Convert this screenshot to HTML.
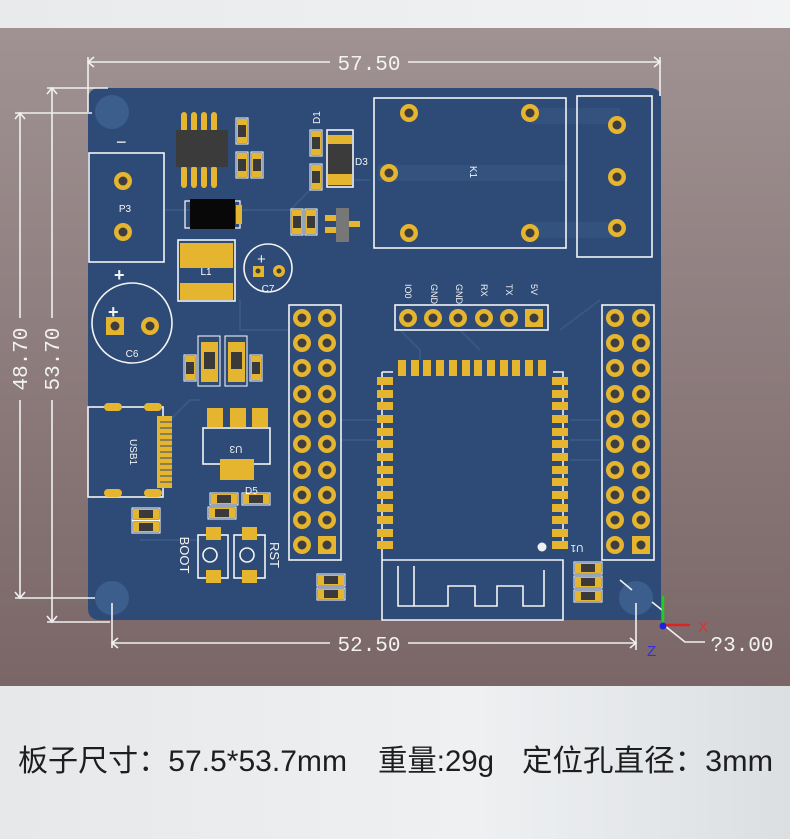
<!DOCTYPE html>
<html><head><meta charset="utf-8"><style>
html,body{margin:0;padding:0;width:790px;height:839px;overflow:hidden;background:#eceef0}
svg{display:block}
</style></head><body>
<svg width="790" height="839" viewBox="0 0 790 839" xmlns="http://www.w3.org/2000/svg">
<defs>
<linearGradient id="bg" x1="0" y1="0" x2="0" y2="1">
<stop offset="0" stop-color="#a09293"/><stop offset="1" stop-color="#7a6667"/></linearGradient>
<linearGradient id="top" x1="0" y1="0" x2="1" y2="0">
<stop offset="0" stop-color="#e8eaec"/><stop offset="1" stop-color="#f2f3f5"/></linearGradient>
<linearGradient id="bot" x1="0" y1="0" x2="1" y2="0">
<stop offset="0" stop-color="#e6e8ea"/><stop offset="0.6" stop-color="#eef0f2"/><stop offset="1" stop-color="#dcdfe2"/></linearGradient>
<g id="th"><circle r="9" fill="#e6b52f"/><circle r="4.5" fill="#3e3e40"/></g>
<g id="sq"><rect x="-9" y="-9" width="18" height="18" fill="#e6b52f"/><circle r="4.5" fill="#3e3e40"/></g>
<g id="rv"><rect x="-6" y="-13" width="12" height="26" fill="none" stroke="#fff" stroke-width="1"/><rect x="-5" y="-12" width="10" height="24" fill="#e6b52f"/><rect x="-4" y="-6" width="8" height="12" fill="#3a3a3a"/></g>
<g id="rh"><rect x="-14" y="-6" width="28" height="12" fill="none" stroke="#fff" stroke-width="1"/><rect x="-13" y="-5" width="26" height="10" fill="#e6b52f"/><rect x="-7" y="-4" width="14" height="8" fill="#3a3a3a"/></g>
<rect id="pv" x="-4" y="-8" width="8" height="16" fill="#e6b52f"/>
<rect id="ph" x="-8" y="-4" width="16" height="8" fill="#e6b52f"/>
</defs>

<rect x="0" y="0" width="790" height="28" fill="url(#top)"/>
<rect x="0" y="28" width="790" height="658" fill="url(#bg)"/>
<rect x="0" y="686" width="790" height="153" fill="url(#bot)"/>

<path d="M100,88 H650 Q661,88 661,99 V620 H100 Q88,620 88,608 V100 Q88,88 100,88 Z" fill="#2d4b76"/>
<g stroke="#3a5b88" stroke-width="2" fill="none" opacity="0.8">
<path d="M165,210 H290 L310,190"/><path d="M240,300 V330 H290"/><path d="M340,180 H370"/>
<path d="M400,330 L420,350 V360"/><path d="M460,330 L480,350"/><path d="M560,330 L600,300"/>
<path d="M570,420 H600"/><path d="M570,440 H600"/><path d="M570,460 H600"/><path d="M340,420 H376"/><path d="M340,440 H376"/>
<path d="M140,540 H200"/><path d="M170,420 L190,400 H200"/>
</g>
<g fill="#3a5a86" opacity="0.5"><rect x="378" y="165" width="190" height="16"/><rect x="530" y="108" width="90" height="16"/><rect x="530" y="222" width="90" height="16"/></g>
<g fill="#3c5e8c"><circle cx="112" cy="112" r="17"/><circle cx="112" cy="598" r="17"/><circle cx="636" cy="598" r="17"/></g>

<g stroke="#f0f0f0" stroke-width="1.6" fill="none">
<path d="M88,57 V112"/><path d="M88,62 H330"/><path d="M408,62 H660"/><path d="M660,57 V96"/>
<path d="M94,57 L88,62 L94,67"/><path d="M654,57 L660,62 L654,67"/>
<path d="M47,88 H108"/><path d="M15,113 H92"/><path d="M15,598 H95"/><path d="M47,622 H110"/>
<path d="M20,113 V318"/><path d="M20,400 V598"/><path d="M52,88 V318"/><path d="M52,400 V622"/>
<path d="M15,119 L20,113 L25,119"/><path d="M15,592 L20,598 L25,592"/>
<path d="M47,94 L52,88 L57,94"/><path d="M47,616 L52,622 L57,616"/>
<path d="M112,603 V648"/><path d="M112,643 H330"/><path d="M408,643 H636"/><path d="M636,603 V650"/>
<path d="M118,638 L112,643 L118,648"/><path d="M630,638 L636,643 L630,648"/>
<path d="M632,590 L620,580"/><path d="M652,602 L662,610"/>
<path d="M665,626 L685,642 H705"/>
</g>
<g fill="#f2f2f2" font-family="Liberation Mono, monospace" font-size="21">
<text x="369" y="70" text-anchor="middle">57.50</text>
<text x="369" y="651" text-anchor="middle">52.50</text>
<text x="742" y="651" text-anchor="middle">?3.00</text>
<text transform="translate(27,359) rotate(-90)" text-anchor="middle">48.70</text>
<text transform="translate(59,359) rotate(-90)" text-anchor="middle">53.70</text>
</g>
<g stroke-width="2.5"><path d="M663,625 V596" stroke="#22cc22"/><path d="M663,625 H690" stroke="#dd2222"/></g>
<circle cx="663" cy="626" r="3.5" fill="#2222dd"/>
<text x="698" y="632" fill="#e03030" font-family="Liberation Sans,sans-serif" font-size="15">X</text>
<text x="647" y="656" fill="#3030e0" font-family="Liberation Sans,sans-serif" font-size="15">Z</text>

<g stroke="#f4f4f4" stroke-width="1.6" fill="none">
<rect x="89" y="153" width="75" height="109"/>
<rect x="374" y="98" width="192" height="150"/>
<rect x="577" y="96" width="75" height="161"/>
<rect x="395" y="305" width="153" height="25"/>
<rect x="289" y="305" width="52" height="255"/>
<rect x="602" y="305" width="52" height="255"/>
<circle cx="268" cy="268" r="24"/>
<circle cx="132" cy="323" r="40"/>
<rect x="88" y="407" width="75" height="90"/>
<rect x="203" y="428" width="67" height="36"/>
<rect x="198" y="535" width="30" height="43"/><rect x="234" y="535" width="31" height="43"/>
<circle cx="210" cy="555" r="7"/><circle cx="247" cy="555" r="7"/>
<path d="M382,372 V620 H563 V560 H382 M382,372 H393 M553,372 H563 V548"/>
<path d="M398,566 V606 H414 V566 M414,606 H448 V586 H475 V606 H497 V586 H523 V606 H544 V570"/>
<rect x="327" y="130" width="26" height="57"/>
<rect x="178" y="240" width="57" height="61"/>
</g>
<g fill="#f4f4f4" font-family="Liberation Sans,sans-serif" font-size="10">
<text x="125" y="212" text-anchor="middle">P3</text>
<text x="206" y="275" text-anchor="middle" fill="#fff">L1</text>
<text x="268" y="292" text-anchor="middle">C7</text>
<text x="132" y="357" text-anchor="middle">C6</text>
<text x="355" y="165">D3</text>
<text x="245" y="494">D5</text>
<text transform="translate(470,172) rotate(90)" text-anchor="middle">K1</text>
<text transform="translate(236,446) rotate(180)" text-anchor="middle">U3</text>
<text transform="translate(130,452) rotate(90)" text-anchor="middle">USB1</text>
<text transform="translate(320,124) rotate(-90)">D1</text>
<text transform="translate(577,545) rotate(180)" text-anchor="middle">U1</text>
<text transform="translate(180,555) rotate(90)" font-size="13" text-anchor="middle">BOOT</text>
<text transform="translate(270,555) rotate(90)" font-size="13" text-anchor="middle">RST</text>
<g font-size="9">
<text transform="translate(405,284) rotate(90)">IO0</text>
<text transform="translate(431,284) rotate(90)">GND</text>
<text transform="translate(456,284) rotate(90)">GND</text>
<text transform="translate(481,284) rotate(90)">RX</text>
<text transform="translate(506,284) rotate(90)">TX</text>
<text transform="translate(531,284) rotate(90)">5V</text>
</g>
<text x="116" y="148" font-size="18">−</text>
<text x="114" y="281" font-size="18" font-weight="bold">+</text>
<text x="108" y="318" font-size="18" font-weight="bold">+</text>
<text x="257" y="264" font-size="15">+</text>
</g>

<use href="#th" x="123" y="181"/><use href="#th" x="123" y="232"/>
<use href="#th" x="409" y="113"/><use href="#th" x="530" y="113"/><use href="#th" x="389" y="173"/><use href="#th" x="409" y="233"/><use href="#th" x="530" y="233"/>
<use href="#th" x="617" y="125"/><use href="#th" x="617" y="177"/><use href="#th" x="617" y="228"/>
<use href="#th" x="408" y="318"/><use href="#th" x="433" y="318"/><use href="#th" x="458" y="318"/><use href="#th" x="484" y="318"/><use href="#th" x="509" y="318"/><use href="#sq" x="534" y="318"/>
<g>
<use href="#th" x="302" y="318"/><use href="#th" x="327" y="318"/>
<use href="#th" x="302" y="343"/><use href="#th" x="327" y="343"/>
<use href="#th" x="302" y="368"/><use href="#th" x="327" y="368"/>
<use href="#th" x="302" y="394"/><use href="#th" x="327" y="394"/>
<use href="#th" x="302" y="419"/><use href="#th" x="327" y="419"/>
<use href="#th" x="302" y="444"/><use href="#th" x="327" y="444"/>
<use href="#th" x="302" y="470"/><use href="#th" x="327" y="470"/>
<use href="#th" x="302" y="495"/><use href="#th" x="327" y="495"/>
<use href="#th" x="302" y="520"/><use href="#th" x="327" y="520"/>
<use href="#th" x="302" y="545"/><use href="#sq" x="327" y="545"/>
</g>
<g>
<use href="#th" x="615" y="318"/><use href="#th" x="641" y="318"/>
<use href="#th" x="615" y="343"/><use href="#th" x="641" y="343"/>
<use href="#th" x="615" y="368"/><use href="#th" x="641" y="368"/>
<use href="#th" x="615" y="394"/><use href="#th" x="641" y="394"/>
<use href="#th" x="615" y="419"/><use href="#th" x="641" y="419"/>
<use href="#th" x="615" y="444"/><use href="#th" x="641" y="444"/>
<use href="#th" x="615" y="470"/><use href="#th" x="641" y="470"/>
<use href="#th" x="615" y="495"/><use href="#th" x="641" y="495"/>
<use href="#th" x="615" y="520"/><use href="#th" x="641" y="520"/>
<use href="#th" x="615" y="545"/><use href="#sq" x="641" y="545"/>
</g>
<g>
<use href="#pv" x="402" y="368"/><use href="#pv" x="415" y="368"/><use href="#pv" x="427" y="368"/><use href="#pv" x="440" y="368"/><use href="#pv" x="453" y="368"/><use href="#pv" x="466" y="368"/><use href="#pv" x="478" y="368"/><use href="#pv" x="491" y="368"/><use href="#pv" x="504" y="368"/><use href="#pv" x="516" y="368"/><use href="#pv" x="529" y="368"/><use href="#pv" x="542" y="368"/>
<use href="#ph" x="385" y="381"/><use href="#ph" x="385" y="394"/><use href="#ph" x="385" y="406"/><use href="#ph" x="385" y="419"/><use href="#ph" x="385" y="432"/><use href="#ph" x="385" y="444"/><use href="#ph" x="385" y="457"/><use href="#ph" x="385" y="470"/><use href="#ph" x="385" y="482"/><use href="#ph" x="385" y="495"/><use href="#ph" x="385" y="508"/><use href="#ph" x="385" y="520"/><use href="#ph" x="385" y="533"/><use href="#ph" x="385" y="545"/>
<use href="#ph" x="560" y="381"/><use href="#ph" x="560" y="394"/><use href="#ph" x="560" y="406"/><use href="#ph" x="560" y="419"/><use href="#ph" x="560" y="432"/><use href="#ph" x="560" y="444"/><use href="#ph" x="560" y="457"/><use href="#ph" x="560" y="470"/><use href="#ph" x="560" y="482"/><use href="#ph" x="560" y="495"/><use href="#ph" x="560" y="508"/><use href="#ph" x="560" y="520"/><use href="#ph" x="560" y="533"/><use href="#ph" x="560" y="545"/>
</g>
<circle cx="542" cy="547" r="4.5" fill="#f0f0f0"/>

<g fill="#e6b52f"><rect x="181" y="112" width="6" height="20" rx="3"/><rect x="191" y="112" width="6" height="20" rx="3"/><rect x="201" y="112" width="6" height="20" rx="3"/><rect x="211" y="112" width="6" height="20" rx="3"/>
<rect x="181" y="166" width="6" height="22" rx="3"/><rect x="191" y="166" width="6" height="22" rx="3"/><rect x="201" y="166" width="6" height="22" rx="3"/><rect x="211" y="166" width="6" height="22" rx="3"/></g>
<rect x="176" y="130" width="52" height="37" fill="#3b3b3b"/>
<use href="#rv" x="242" y="131"/><use href="#rv" x="242" y="165"/><use href="#rv" x="257" y="165"/>
<use href="#rv" x="316" y="143"/><use href="#rv" x="316" y="177"/>
<rect x="328" y="135" width="24" height="50" fill="#e6b52f"/><rect x="328" y="144" width="24" height="30" fill="#3b3b3b"/>
<rect x="185" y="201" width="55" height="27" fill="none" stroke="#fff" stroke-width="1.2"/>
<rect x="236" y="205" width="6" height="19" fill="#e6b52f"/>
<rect x="190" y="199" width="45" height="30" fill="#080808"/>
<use href="#rv" x="297" y="222"/><use href="#rv" x="311" y="222"/>
<rect x="325" y="215" width="16" height="6" fill="#e6b52f"/><rect x="325" y="227" width="16" height="6" fill="#e6b52f"/><rect x="340" y="221" width="20" height="6" fill="#e6b52f"/>
<rect x="336" y="208" width="13" height="34" fill="#777"/>
<rect x="180" y="243" width="53" height="25" fill="#e6b52f"/><rect x="180" y="283" width="53" height="17" fill="#e6b52f"/>
<rect x="253" y="266" width="11" height="11" fill="#e6b52f"/><circle cx="258" cy="271" r="2.5" fill="#3e3e40"/><circle cx="279" cy="271" r="6" fill="#e6b52f"/><circle cx="279" cy="271" r="2.5" fill="#3e3e40"/>
<use href="#sq" x="115" y="326"/><use href="#th" x="150" y="326"/>
<rect x="198" y="336" width="22" height="50" fill="none" stroke="#fff"/><rect x="225" y="336" width="22" height="50" fill="none" stroke="#fff"/>
<rect x="201" y="342" width="17" height="40" fill="#e6b52f"/><rect x="228" y="342" width="17" height="40" fill="#e6b52f"/>
<rect x="204" y="352" width="11" height="17" fill="#3a3a3a"/><rect x="231" y="352" width="11" height="17" fill="#3a3a3a"/>
<use href="#rv" x="190" y="368"/><use href="#rv" x="256" y="368"/>
<g fill="none" stroke="#e6b52f" stroke-width="4"><rect x="106" y="405" width="14" height="4" rx="2"/><rect x="146" y="405" width="14" height="4" rx="2"/><rect x="106" y="491" width="14" height="4" rx="2"/><rect x="146" y="491" width="14" height="4" rx="2"/></g>
<rect x="157" y="416" width="15" height="72" fill="#e6b52f"/>
<g stroke="#2d4b76" stroke-width="1"><path d="M160,422 H172 M160,428 H172 M160,434 H172 M160,440 H172 M160,446 H172 M160,452 H172 M160,458 H172 M160,464 H172 M160,470 H172 M160,476 H172 M160,482 H172"/></g>
<rect x="207" y="408" width="16" height="19" fill="#e6b52f"/><rect x="230" y="408" width="16" height="19" fill="#e6b52f"/><rect x="252" y="408" width="16" height="19" fill="#e6b52f"/>
<rect x="220" y="459" width="34" height="21" fill="#e6b52f"/>
<use href="#rh" x="224" y="499"/><use href="#rh" x="256" y="499"/><use href="#rh" x="222" y="513"/>
<use href="#rh" x="146" y="514"/><use href="#rh" x="146" y="527"/>
<g fill="#e6b52f"><rect x="206" y="527" width="15" height="13"/><rect x="242" y="527" width="15" height="13"/><rect x="206" y="570" width="15" height="13"/><rect x="242" y="570" width="15" height="13"/></g>
<use href="#rh" x="331" y="580"/><use href="#rh" x="331" y="594"/>
<use href="#rh" x="588" y="568"/><use href="#rh" x="588" y="582"/><use href="#rh" x="588" y="596"/>

<g fill="#1e1e1e" font-family="Liberation Sans,'Noto Sans CJK SC',sans-serif" font-size="30">
<text x="18" y="771" textLength="329" lengthAdjust="spacingAndGlyphs">板子尺寸：57.5*53.7mm</text>
<text x="378" y="771" textLength="116" lengthAdjust="spacingAndGlyphs">重量:29g</text>
<text x="522" y="771" textLength="251" lengthAdjust="spacingAndGlyphs">定位孔直径：3mm</text>
</g>
</svg>
</body></html>
